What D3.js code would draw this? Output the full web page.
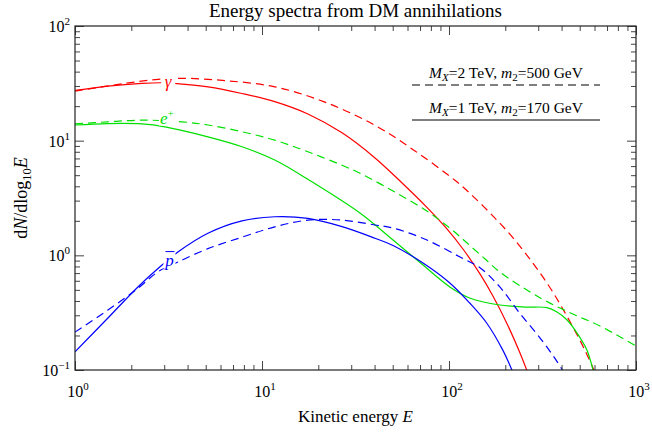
<!DOCTYPE html>
<html><head><meta charset="utf-8">
<script src="https://cdn.jsdelivr.net/npm/d3@7"></script>
<style>
body{margin:0;background:#fff}
svg{display:block}
text{font-family:"Liberation Serif","Times New Roman",serif;fill:#000}
</style>
</head><body>
<svg id="chart" width="652" height="434"></svg>
<script>
// ---- data (E in GeV, dN/dlog10E) ----
const gammaSolid = [[1,27.4],[1.5,29.9],[2.28,31.6],[2.92,32.0],[3.55,31.4],[5.14,29.5],[7.82,25.8],[11.7,21.9],[17.6,17.1],[26.8,11.7],[40.2,7.07],[54.7,4.45],[76.2,2.62],[97.5,1.70],[119,1.13],[147,0.682],[172,0.44],[204,0.255],[240,0.14],[264,0.094],[300,0.052]];
const gammaDashed = [[1,27.0],[1.85,31.6],[2.78,34.3],[3.73,35.0],[6.34,33.4],[11.7,29.5],[21.7,21.7],[40.2,13.6],[65.8,8.13],[108,4.49],[129,3.49],[172,2.20],[220,1.42],[281,0.855],[347,0.522],[407,0.339],[502,0.181],[547,0.136],[604,0.095],[660,0.067]];
const positronSolid = [[1,13.7],[1.5,14.1],[2.28,14.0],[3.03,13.2],[5.14,10.8],[7.82,8.85],[11.7,6.78],[17.6,4.60],[33.4,2.34],[50.2,1.36],[72.6,0.823],[101,0.53],[129,0.425],[187,0.369],[261,0.354],[334,0.35],[378,0.32],[428,0.273],[484,0.21],[547,0.149],[589,0.1],[620,0.07]];
const positronDashed = [[1,14.0],[1.5,14.6],[2.28,15.1],[3.73,14.6],[5.14,13.7],[7.82,11.96],[11.7,10.1],[17.6,8.0],[26.8,6.1],[33.4,5.2],[50.2,3.64],[76.2,2.43],[101,1.73],[125,1.28],[156,0.928],[187,0.715],[261,0.498],[347,0.383],[472,0.302],[642,0.242],[1000,0.162]];
const antiprotonSolid = [[1,0.144],[1.5,0.284],[2.17,0.53],[2.92,0.823],[3.55,1.07],[5.14,1.56],[7.82,2.0],[11.7,2.17],[17.6,2.10],[26.8,1.78],[40.2,1.41],[50.2,1.22],[72.6,0.857],[101,0.574],[129,0.384],[159,0.257],[194,0.149],[217,0.1],[240,0.065]];
const antiprotonDashed = [[1,0.214],[1.5,0.333],[2.17,0.516],[2.78,0.719],[3.55,0.874],[5.14,1.144],[7.82,1.44],[11.7,1.77],[17.6,2.03],[26.8,2.03],[40.2,1.84],[50.2,1.73],[76.2,1.36],[114.5,0.967],[147,0.775],[187,0.53],[240,0.31],[307,0.19],[370,0.125],[440,0.08]];

const xMajorTicks = [1,10,100,1000];
const xTickExponents = ["0","1","2","3"];
const yMajorTicks = [0.1,1,10,100];
const yTickExponents = ["\u22121","0","1","2"];

const titleText = "Energy spectra from DM annihilations";
const xTitle = "Kinetic energy ";
const legendRows = [
  {MX:"2", m2:"500", dash:"8,5"},
  {MX:"1", m2:"170", dash:null}
];
const seriesList = [
  {data:gammaSolid, color:"#ff0000", dash:null},
  {data:gammaDashed, color:"#ff0000", dash:"8,5"},
  {data:positronSolid, color:"#00e000", dash:null},
  {data:positronDashed, color:"#00e000", dash:"8,5"},
  {data:antiprotonSolid, color:"#0000ff", dash:null},
  {data:antiprotonDashed, color:"#0000ff", dash:"8,5"}
];

// ---- layout ----
const W = 652, H = 434;
const m = {left:75, right:16, top:26, bottom:64};
const svg = d3.select("#chart");
const x = d3.scaleLog().domain([1,1000]).range([m.left, W-m.right]);
const y = d3.scaleLog().domain([0.1,100]).range([H-m.bottom, m.top]);
const x0 = m.left, x1 = W-m.right, y0 = H-m.bottom, y1 = m.top;

svg.append("clipPath").attr("id","clip").append("rect")
  .attr("x",x0).attr("y",y1).attr("width",x1-x0).attr("height",y0-y1);

// curves
const line = d3.line().x(d=>x(d[0])).y(d=>y(d[1])).curve(d3.curveCatmullRom.alpha(0.5));
const gCurves = svg.append("g").attr("clip-path","url(#clip)");
seriesList.forEach(s=>{
  gCurves.append("path").datum(s.data).attr("d",line)
    .attr("fill","none").attr("stroke",s.color).attr("stroke-width",1.2)
    .attr("stroke-dasharray",s.dash);
});

// curve labels with white backing
function curveLabel(cx, cy, color, build, w, h){
  svg.append("rect").attr("x",cx-w/2).attr("y",cy-h/2).attr("width",w).attr("height",h).attr("fill","#fff");
  const t = svg.append("text").attr("x",cx).attr("y",cy+5).attr("text-anchor","middle")
    .style("font-size","17px").style("font-style","italic").style("fill",color);
  build(t);
}
curveLabel(x(3.15), y(32.5), "#ff0000", t=>t.text("\u03b3"), 14, 16);
curveLabel(x(3.1), y(15.6), "#00e000", t=>{t.append("tspan").text("e");t.append("tspan").attr("dy",-7).style("font-size","11px").style("font-style","normal").text("+");}, 16, 14);
curveLabel(x(3.2), y(0.9), "#0000ff", t=>t.text("p"), 12, 16);
svg.append("line").attr("x1",x(3.2)-4).attr("x2",x(3.2)+5).attr("y1",y(0.9)-9).attr("y2",y(0.9)-9)
  .attr("stroke","#0000ff").attr("stroke-width",1);

// frame ticks
const minor = [];
for (let e=-1;e<3;e++) for (let k=2;k<10;k++) minor.push(k*Math.pow(10,e));
const xMinor = minor.filter(v=>v>1&&v<1000);
const yMinor = minor.filter(v=>v>0.1&&v<100);
const majLen = 9, minLen = 5;
function addAxis(axisGen, tr){
  const g = svg.append("g").attr("transform",tr).call(axisGen);
  g.select(".domain").remove();
  g.selectAll("line").attr("stroke","#444").attr("stroke-width",1);
  g.selectAll("text").remove();
}
addAxis(d3.axisBottom(x).tickValues(xMajorTicks).tickSize(-majLen), `translate(0,${y0})`);
addAxis(d3.axisBottom(x).tickValues(xMinor).tickSize(-minLen), `translate(0,${y0})`);
addAxis(d3.axisTop(x).tickValues(xMajorTicks).tickSize(-majLen), `translate(0,${y1})`);
addAxis(d3.axisTop(x).tickValues(xMinor).tickSize(-minLen), `translate(0,${y1})`);
addAxis(d3.axisLeft(y).tickValues(yMajorTicks).tickSize(-majLen), `translate(${x0},0)`);
addAxis(d3.axisLeft(y).tickValues(yMinor).tickSize(-minLen), `translate(${x0},0)`);
addAxis(d3.axisRight(y).tickValues(yMajorTicks).tickSize(-majLen), `translate(${x1},0)`);
addAxis(d3.axisRight(y).tickValues(yMinor).tickSize(-minLen), `translate(${x1},0)`);

svg.append("rect").attr("x",x0).attr("y",y1).attr("width",x1-x0).attr("height",y0-y1)
  .attr("fill","none").attr("stroke","#222").attr("stroke-width",1.2);

// tick labels
xMajorTicks.forEach((v,i)=>{
  const t = svg.append("text").attr("x",x(v)+3).attr("y",y0+27).attr("text-anchor","middle").style("font-size","16px");
  t.append("tspan").text("10");
  t.append("tspan").attr("dy",-7).style("font-size","11px").text(xTickExponents[i]);
});
yMajorTicks.forEach((v,i)=>{
  const t = svg.append("text").attr("x",x0-5).attr("y",y(v)+6).attr("text-anchor","end").style("font-size","16px");
  t.append("tspan").text("10");
  t.append("tspan").attr("dy",-7).style("font-size","11px").text(yTickExponents[i]);
});

// title
svg.append("text").attr("x",(x0+x1)/2).attr("y",17).attr("text-anchor","middle").style("font-size","19px").text(titleText);
// x title
const xt = svg.append("text").attr("x",(x0+x1)/2).attr("y",H-12).attr("text-anchor","middle").style("font-size","17px");
xt.append("tspan").text(xTitle);
xt.append("tspan").style("font-style","italic").text("E");
// y title
const yt = svg.append("text").attr("transform",`translate(27,${(y0+y1)/2}) rotate(-90)`).attr("text-anchor","middle").style("font-size","18px");
yt.append("tspan").text("d");
yt.append("tspan").style("font-style","italic").text("N");
yt.append("tspan").text("/dlog");
yt.append("tspan").attr("dy",4).style("font-size","12.5px").text("10");
yt.append("tspan").attr("dy",-4).style("font-style","italic").text("E");

// legend
const lgX0 = 412, lgX1 = 600;
legendRows.forEach((r,i)=>{
  const ty = 78 + i*35, ly = 85 + i*35;
  const t = svg.append("text").attr("x",(lgX0+lgX1)/2).attr("y",ty).attr("text-anchor","middle").style("font-size","15.5px");
  t.append("tspan").style("font-style","italic").text("M");
  t.append("tspan").attr("dy",3).style("font-size","11px").style("font-style","italic").text("X");
  t.append("tspan").attr("dy",-3).text("="+r.MX+" TeV, ");
  t.append("tspan").style("font-style","italic").text("m");
  t.append("tspan").attr("dy",3).style("font-size","11px").text("2");
  t.append("tspan").attr("dy",-3).text("="+r.m2+" GeV");
  svg.append("line").attr("x1",lgX0).attr("x2",lgX1).attr("y1",ly).attr("y2",ly)
    .attr("stroke","#000").attr("stroke-width",1.2).attr("stroke-dasharray",r.dash);
});
</script>
</body></html>
